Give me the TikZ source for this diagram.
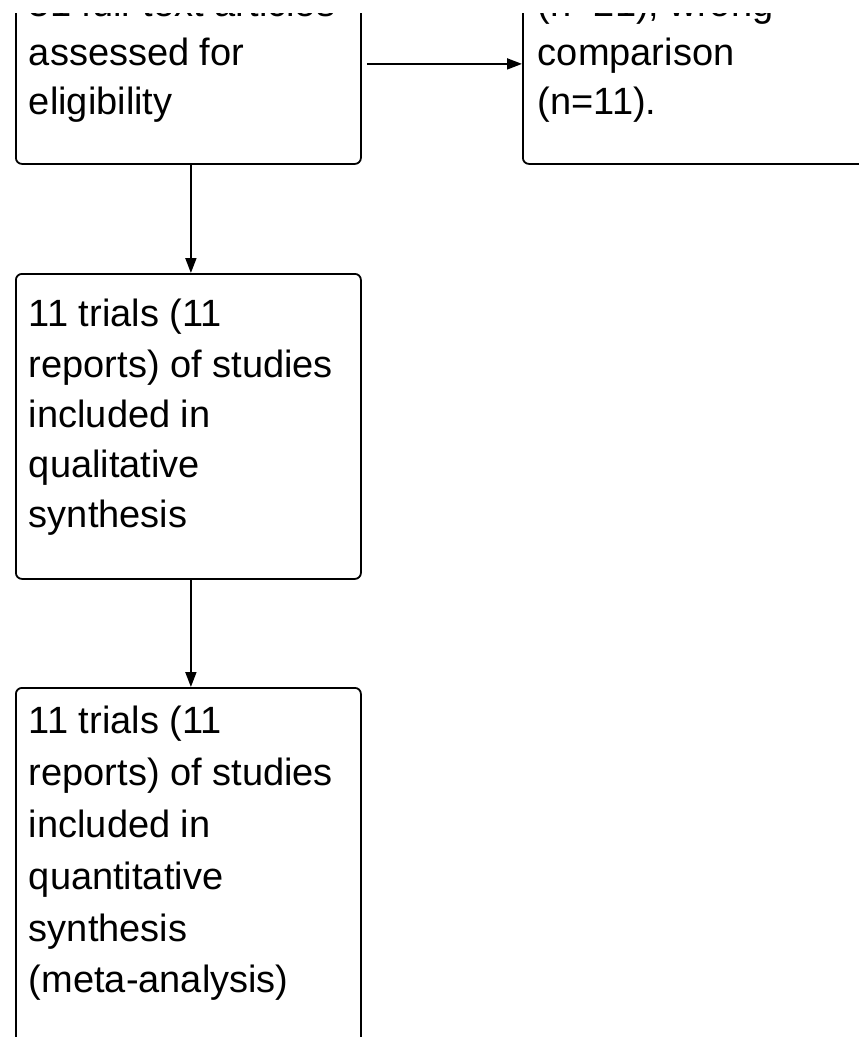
\documentclass[tikz,border=0pt]{standalone}
\usepackage{fontspec}
\setmainfont{Liberation Sans}
\usetikzlibrary{arrows.meta}
\tikzset{
  flowbox/.style={draw=black, line width=1.8pt, rounded corners=6pt, inner xsep=13pt, inner ysep=0pt, anchor=north west, align=left},
  flowarrow/.style={draw=black, line width=1.8pt, -{Triangle[length=15pt,width=11pt]}},
}
\newcommand{\fbtext}[4]{\parbox[c][#1][t]{319pt}{\fontsize{38}{#3}\selectfont\raggedright\rule{0pt}{#2}#4}}
\begin{document}
\begin{tikzpicture}[x=1pt,y=-1pt]
\useasboundingbox (0,0) rectangle (859,1037);
\node[flowbox] (full) at (15,-37) {\fbtext{200pt}{53pt}{49pt}{31 full-text articles\\assessed for\\eligibility}};
\node[flowbox, inner xsep=15pt] (excl) at (522,-37) {\fbtext{200pt}{53pt}{49pt}{(n=21), wrong\\comparison\\(n=11).}};
\node[flowbox] (qual) at (15,273) {\fbtext{305pt}{53pt}{50.25pt}{11 trials (11\\reports) of studies\\included in\\qualitative\\synthesis}};
\node[flowbox] (quant) at (15,687) {\fbtext{400pt}{46pt}{51.8pt}{11 trials (11\\reports) of studies\\included in\\quantitative\\synthesis\\(meta-analysis)}};
\draw[flowarrow, shorten <=5pt] (full.east) -- (excl.west);
\draw[flowarrow] ([xshift=2.5pt]full.south) -- ([xshift=2.5pt]qual.north);
\draw[flowarrow] ([xshift=2.5pt]qual.south) -- ([xshift=2.5pt]quant.north);
\fill[white] (-5,-5) rectangle (870,12.5);
\end{tikzpicture}
\end{document}
